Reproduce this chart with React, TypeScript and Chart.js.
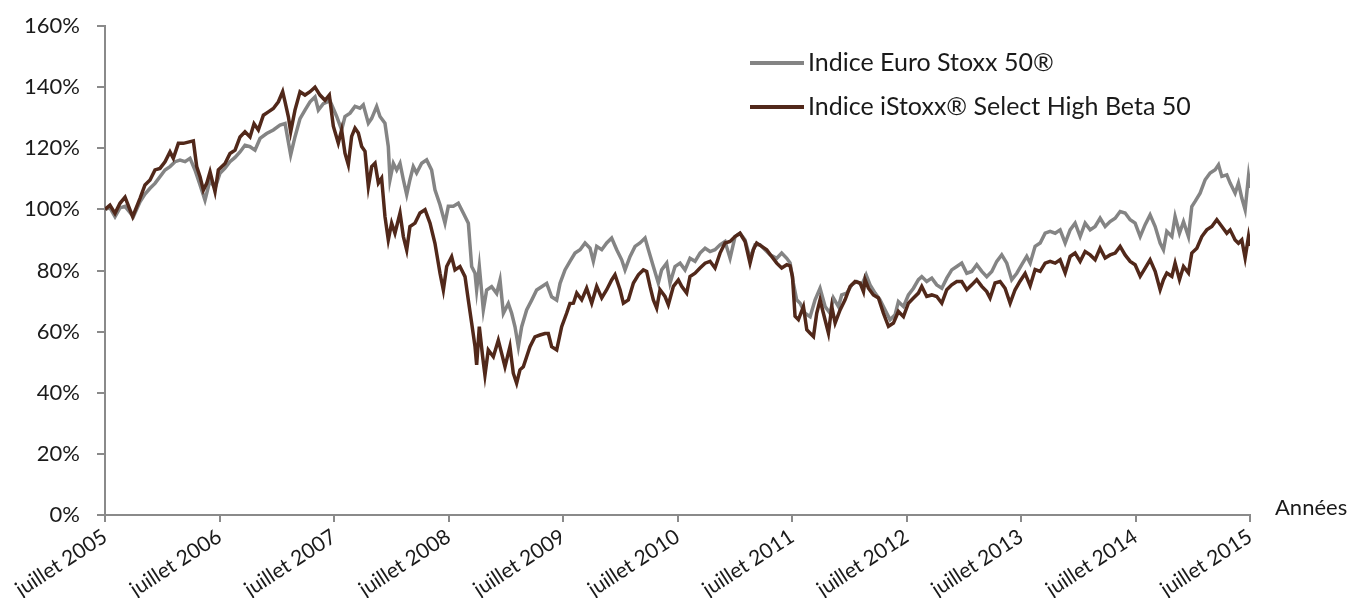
import React, { useEffect, useRef } from "react";
import { Chart, registerables } from "chart.js";

Chart.register(...registerables);

// x values are months since July 2005
const tickLabels = [
  "juillet 2005", "juillet 2006", "juillet 2007", "juillet 2008", "juillet 2009", "juillet 2010",
  "juillet 2011", "juillet 2012", "juillet 2013", "juillet 2014", "juillet 2015",
];
const seriesNames = ["Indice Euro Stoxx 50®", "Indice iStoxx® Select High Beta 50"];
const xAxisTitle = "Années";

const euroMonths = [
  0.00, 0.52, 1.05, 1.57, 2.10, 2.97, 3.67, 4.19, 4.72, 5.24, 5.76, 6.29, 6.81, 7.34, 7.86, 8.39, 8.91, 9.43, 9.96, 10.48,
  11.01, 11.53, 12.05, 12.58, 13.10, 13.63, 14.15, 14.67, 15.20, 15.72, 16.25, 16.94, 17.64, 18.34, 18.87, 19.22, 19.46, 19.91, 20.44, 20.96,
  21.49, 22.01, 22.36, 22.88, 23.58, 24.28, 24.80, 25.15, 25.68, 26.20, 26.72, 27.07, 27.60, 27.95, 28.47, 28.82, 29.34, 29.69, 29.87, 30.22,
  30.57, 30.92, 31.27, 31.62, 31.96, 32.31, 32.66, 33.19, 33.71, 34.23, 34.58, 35.11, 35.63, 35.98, 36.51, 37.03, 37.55, 38.08, 38.43, 38.78,
  38.95, 39.23, 39.65, 40.00, 40.52, 41.05, 41.40, 41.75, 42.27, 42.62, 42.97, 43.32, 43.67, 44.19, 44.72, 45.24, 45.76, 46.29, 46.81, 47.34,
  47.69, 48.21, 48.73, 49.26, 49.79, 50.31, 50.83, 51.18, 51.53, 52.06, 52.58, 53.10, 53.63, 54.15, 54.50, 55.03, 55.55, 56.07, 56.60, 56.95,
  57.47, 57.99, 58.34, 58.87, 59.22, 59.74, 60.27, 60.79, 61.31, 61.84, 62.36, 62.89, 63.41, 63.93, 64.46, 64.98, 65.51, 66.03, 66.55, 67.08,
  67.60, 68.13, 68.65, 69.17, 69.70, 70.40, 70.92, 71.45, 71.80, 72.14, 72.49, 72.85, 73.37, 73.90, 74.42, 74.94, 75.47, 75.99, 76.34, 76.87,
  77.21, 77.74, 78.26, 78.79, 79.31, 79.77, 80.18, 80.71, 81.23, 81.76, 82.28, 82.80, 83.15, 83.68, 84.20, 84.73, 85.25, 85.60, 86.12, 86.65,
  87.17, 87.70, 88.22, 88.74, 89.27, 89.79, 90.32, 90.84, 91.36, 91.89, 92.41, 92.94, 93.46, 93.98, 94.51, 95.03, 95.56, 96.08, 96.60, 96.96,
  97.48, 98.01, 98.53, 99.05, 99.58, 100.10, 100.63, 101.15, 101.67, 102.20, 102.72, 103.25, 103.77, 104.29, 104.82, 105.34, 105.87, 106.39, 106.91, 107.44,
  107.96, 108.49, 109.01, 109.53, 110.06, 110.58, 110.93, 111.28, 111.81, 112.15, 112.61, 113.03, 113.55, 113.90, 114.25, 114.77, 115.30, 115.82, 116.35, 116.70,
  117.05, 117.57, 117.92, 118.44, 118.79, 119.14, 119.49, 119.84, 120.00,
];
const euroValues = [
  100, 100.5, 97.6, 100.5, 101, 97.6, 102.5, 105, 106.9, 108.5, 110.7, 112.9, 114, 115.6, 116.1, 115.6, 116.7, 112.9, 108, 103,
  109.6, 106.9, 111.8, 113.5, 115.6, 117, 118.8, 121, 120.5, 119.4, 123.2, 124.8, 126, 127.6, 128.1, 122, 117.8, 123.7, 129.7, 132.5,
  135.2, 136.8, 132.5, 134.6, 135.5, 130.4, 126, 130.4, 131.5, 133.7, 133.1, 134.2, 128.2, 129.8, 133.7, 130.4, 128.2, 120.6, 109.7, 115.1,
  112.9, 115.1, 109.7, 104.8, 109.7, 114, 111.9, 115.1, 116.2, 112.9, 106.4, 101.5, 95.5, 101, 101, 102, 98.8, 95.5, 81.3, 79.1,
  73.6, 81.3, 67.1, 73.6, 74.7, 72.5, 76.9, 66, 69.2, 66, 61.6, 55.1, 61.6, 67.1, 70.3, 73.6, 74.7, 75.8, 71.4, 70.3,
  75.8, 80.2, 83, 85.7, 86.8, 89, 87.3, 83, 87.9, 86.8, 89, 90.6, 86.8, 83.5, 80.2, 84.6, 87.9, 89, 90.6, 86.8,
  81.3, 75.9, 80.2, 82.4, 75.9, 81.3, 82.4, 80.2, 84, 83, 85.7, 87.3, 86.2, 86.8, 88.4, 89.5, 84, 91.1, 92.2, 90,
  84, 88.4, 88.4, 86.8, 85.1, 84, 85.7, 84, 82.5, 75.9, 70.4, 69.3, 66, 64.9, 70.4, 74.2, 68.2, 66, 71, 68.2,
  72, 72.6, 75.3, 76.4, 75.3, 78.6, 75.3, 72.6, 70.4, 67.1, 63.9, 65.5, 69.8, 68.2, 72, 74.2, 77, 78, 76.4, 77.5,
  75.3, 74.2, 77.5, 80.2, 81.3, 82.4, 79.1, 79.7, 81.9, 79.7, 78, 79.7, 83, 85.1, 82.4, 77, 79.1, 81.9, 84.6, 82.4,
  87.9, 89, 92.2, 92.8, 92.2, 93.3, 89, 93.3, 95.5, 91.1, 95.5, 93.3, 94.4, 97.1, 94.4, 96, 97.1, 99.3, 98.8, 96.6,
  95.5, 91.1, 95, 98.2, 94.4, 89, 86.8, 92.8, 91.1, 97.7, 92.2, 96, 91.1, 100.9, 102.6, 105.3, 109.7, 111.9, 113, 114.6,
  110.8, 111.3, 108.6, 105.3, 108.6, 103.7, 99.9, 110.8, 107,
];

const betaMonths = [
  0.00, 0.52, 1.05, 1.57, 2.10, 2.62, 2.90, 3.67, 4.19, 4.72, 5.24, 5.76, 6.29, 6.81, 7.16, 7.69, 8.21, 8.73, 9.26, 9.61,
  9.96, 10.31, 10.66, 11.01, 11.53, 11.88, 12.58, 13.10, 13.63, 14.15, 14.67, 15.20, 15.62, 16.07, 16.60, 17.12, 17.64, 18.17, 18.62, 18.87,
  19.22, 19.46, 19.91, 20.44, 20.96, 21.49, 22.01, 22.53, 23.06, 23.51, 23.93, 24.45, 24.80, 25.15, 25.50, 25.85, 26.20, 26.55, 26.90, 27.25,
  27.60, 27.95, 28.30, 28.65, 28.99, 29.34, 29.69, 30.04, 30.39, 30.92, 31.27, 31.62, 31.96, 32.49, 33.01, 33.54, 34.06, 34.58, 35.11, 35.46,
  35.81, 36.33, 36.68, 37.20, 37.73, 38.08, 38.43, 38.78, 38.95, 39.23, 39.58, 39.82, 40.17, 40.70, 41.22, 41.57, 41.92, 42.44, 42.79, 43.14,
  43.49, 43.84, 44.19, 44.54, 45.06, 45.59, 46.11, 46.46, 46.81, 47.34, 47.86, 48.38, 48.73, 49.09, 49.44, 49.96, 50.48, 51.01, 51.53, 52.06,
  52.58, 53.10, 53.45, 53.98, 54.33, 54.85, 55.38, 55.90, 56.42, 56.77, 57.12, 57.47, 57.82, 58.17, 58.69, 59.04, 59.57, 60.09, 60.44, 60.96,
  61.31, 61.84, 62.36, 62.89, 63.41, 63.93, 64.46, 64.98, 65.51, 66.03, 66.55, 67.08, 67.60, 67.95, 68.30, 68.83, 69.35, 69.87, 70.40, 70.92,
  71.45, 71.80, 72.05, 72.32, 72.67, 73.20, 73.55, 73.90, 74.25, 74.59, 74.94, 75.29, 75.82, 76.17, 76.52, 77.04, 77.56, 78.09, 78.61, 79.14,
  79.49, 79.66, 80.01, 80.53, 81.06, 81.58, 82.11, 82.63, 83.15, 83.68, 84.20, 84.73, 85.25, 85.60, 86.12, 86.65, 87.17, 87.70, 88.22, 88.74,
  89.27, 89.79, 90.32, 90.84, 91.36, 91.89, 92.41, 92.76, 93.28, 93.81, 94.33, 94.86, 95.38, 95.90, 96.43, 96.96, 97.48, 98.01, 98.53, 99.05,
  99.58, 100.10, 100.63, 101.15, 101.67, 102.20, 102.72, 103.25, 103.77, 104.29, 104.82, 105.34, 105.87, 106.39, 106.91, 107.44, 107.96, 108.49, 109.01, 109.53,
  110.06, 110.58, 110.93, 111.28, 111.81, 112.15, 112.61, 113.03, 113.55, 113.90, 114.43, 114.95, 115.47, 116.00, 116.52, 117.05, 117.57, 117.92, 118.44, 118.79,
  119.14, 119.49, 119.84, 120.00,
];
const betaValues = [
  100, 101.4, 98.7, 102, 104, 99.8, 97.6, 103.6, 108, 109.6, 112.9, 113.4, 115.6, 118.8, 116.7, 121.6, 121.6, 122, 122.4, 114,
  110.7, 106.3, 108.5, 112.3, 105.8, 112.9, 115, 118.3, 119.4, 123.7, 125.4, 123.7, 128, 126, 130.8, 131.9, 133, 135.2, 138.5, 135.2,
  130.3, 125.4, 132.5, 138.5, 137.4, 138.5, 140, 137.4, 135.7, 137.4, 127.2, 121.7, 126, 118.4, 114.6, 123.9, 126.6, 125, 120.6, 119,
  107.5, 114, 115.1, 108.6, 110.2, 97.7, 90, 95.5, 92.2, 98.8, 91.1, 86.7, 94.4, 95.5, 98.8, 99.9, 95.5, 88.9, 79.1, 73.6,
  81.3, 84.5, 80.2, 81.3, 78, 70.3, 62.7, 55.1, 49.1, 61.6, 51.8, 45.8, 54, 51.8, 57.2, 52.9, 48.5, 55.1, 46.4, 43.1,
  47.5, 48.5, 51.8, 55.1, 58.3, 58.9, 59.4, 59.4, 55.1, 54, 61.6, 66, 69.2, 69.3, 72.6, 70.4, 74.2, 69.3, 74.8, 71,
  73.7, 76.9, 78.6, 73.7, 69.3, 70.4, 75.9, 78.6, 80.2, 79.7, 74.8, 70.4, 67.7, 73.7, 71.5, 68.8, 74.8, 76.9, 74.8, 72.6,
  78, 79.1, 80.8, 82.4, 83, 80.8, 85.7, 89, 89.5, 91.1, 92.2, 89.5, 82.4, 86.8, 89, 87.9, 86.8, 84.6, 82.4, 80.8,
  81.9, 81.5, 78, 65, 63.9, 68.2, 60.6, 59.5, 58.4, 66, 70.4, 66, 59.5, 68.2, 62.8, 67.1, 70.4, 74.8, 76.4, 75.9,
  73.1, 77, 74.2, 72, 71, 66, 61.7, 62.8, 66.6, 64.9, 69.3, 71, 72.6, 74.8, 71.5, 72, 71.5, 69.3, 73.7, 75.3,
  76.4, 76.4, 73.7, 75.3, 77, 74.8, 73.1, 71, 75.9, 76.4, 74.2, 69.3, 73.7, 76.5, 79, 75, 80.3, 79.7, 82.4, 83,
  82.4, 83.5, 79.2, 84.6, 85.7, 83, 86.2, 85.1, 83.5, 87.3, 84.1, 85.1, 85.7, 87.9, 85.1, 83, 81.9, 78.1, 80.8, 83.5,
  79.7, 73.7, 77, 79.2, 78.1, 82.4, 77, 81.3, 79.2, 85.7, 87.3, 91.1, 93.3, 94.4, 96.6, 94.4, 92.2, 93.3, 90, 88.9,
  90, 84.1, 91.1, 88,
];

const GRAY = "#848484";
const BROWN = "#51281a";
const AXIS = "#8a8a8a";
const FONT = "Lato";

function toPoints(xs: number[], ys: number[]) {
  return xs.map((x, i) => ({ x, y: ys[i] }));
}

const legendPlugin = {
  id: "customLegend",
  afterDraw(chart: any) {
    const ctx = chart.ctx;
    ctx.save();
    const items = [
      { label: seriesNames[0], color: GRAY, y: 63 },
      { label: seriesNames[1], color: BROWN, y: 107 },
    ];
    for (const it of items) {
      ctx.strokeStyle = it.color;
      ctx.lineWidth = 4;
      ctx.beginPath();
      ctx.moveTo(750, it.y);
      ctx.lineTo(804, it.y);
      ctx.stroke();
      ctx.fillStyle = "#1a1a1a";
      ctx.font = `25px ${FONT}`;
      ctx.textAlign = "left";
      ctx.textBaseline = "middle";
      ctx.fillText(it.label, 808, it.y);
    }
    ctx.font = `22px ${FONT}`;
    ctx.fillText(xAxisTitle, 1275, 508);
    ctx.restore();
  },
};

export default function App() {
  const ref = useRef<HTMLCanvasElement>(null);
  useEffect(() => {
    if (!ref.current) return;
    const chart = new Chart(ref.current, {
      type: "line",
      data: {
        datasets: [
          {
            label: seriesNames[1],
            data: toPoints(betaMonths, betaValues),
            borderColor: BROWN,
            borderWidth: 3.5,
            pointRadius: 0,
            tension: 0,
          },
          {
            label: seriesNames[0],
            data: toPoints(euroMonths, euroValues),
            borderColor: GRAY,
            borderWidth: 3.5,
            pointRadius: 0,
            tension: 0,
          },
        ],
      },
      options: {
        animation: false,
        responsive: false,
        layout: { padding: { top: 26, right: 103, bottom: 0, left: 0 } },
        plugins: { legend: { display: false }, tooltip: { enabled: false } },
        scales: {
          x: {
            type: "linear",
            min: 0,
            max: 120,
            afterFit(s: any) {
              s.height = 83;
              s.paddingLeft = 0;
              s.paddingRight = 0;
            },
            ticks: {
              stepSize: 12,
              autoSkip: false,
              minRotation: 33,
              maxRotation: 33,
              padding: 2,
              color: "#1a1a1a",
              font: { family: FONT, size: 21 },
              callback: (_v: any, i: number) => tickLabels[i],
            },
            grid: { drawOnChartArea: false, drawTicks: true, tickLength: 7, color: AXIS, lineWidth: 2 },
            border: { display: true, color: AXIS, width: 2 },
          },
          y: {
            min: 0,
            max: 160,
            afterFit(s: any) {
              s.width = 105;
              s.paddingTop = 0;
              s.paddingBottom = 0;
            },
            ticks: {
              stepSize: 20,
              padding: 17,
              color: "#1a1a1a",
              font: { family: FONT, size: 22 },
              callback: (v: any) => `${v}%`,
            },
            grid: { drawOnChartArea: false, drawTicks: true, tickLength: 8, color: AXIS, lineWidth: 2 },
            border: { display: true, color: AXIS, width: 2 },
          },
        },
      },
      plugins: [legendPlugin],
    });
    return () => chart.destroy();
  }, []);
  return (
    <div style={{ position: "fixed", left: 0, top: 0, width: 1353, height: 598, background: "#fff" }}>
      <canvas ref={ref} width={1353} height={598} />
    </div>
  );
}
